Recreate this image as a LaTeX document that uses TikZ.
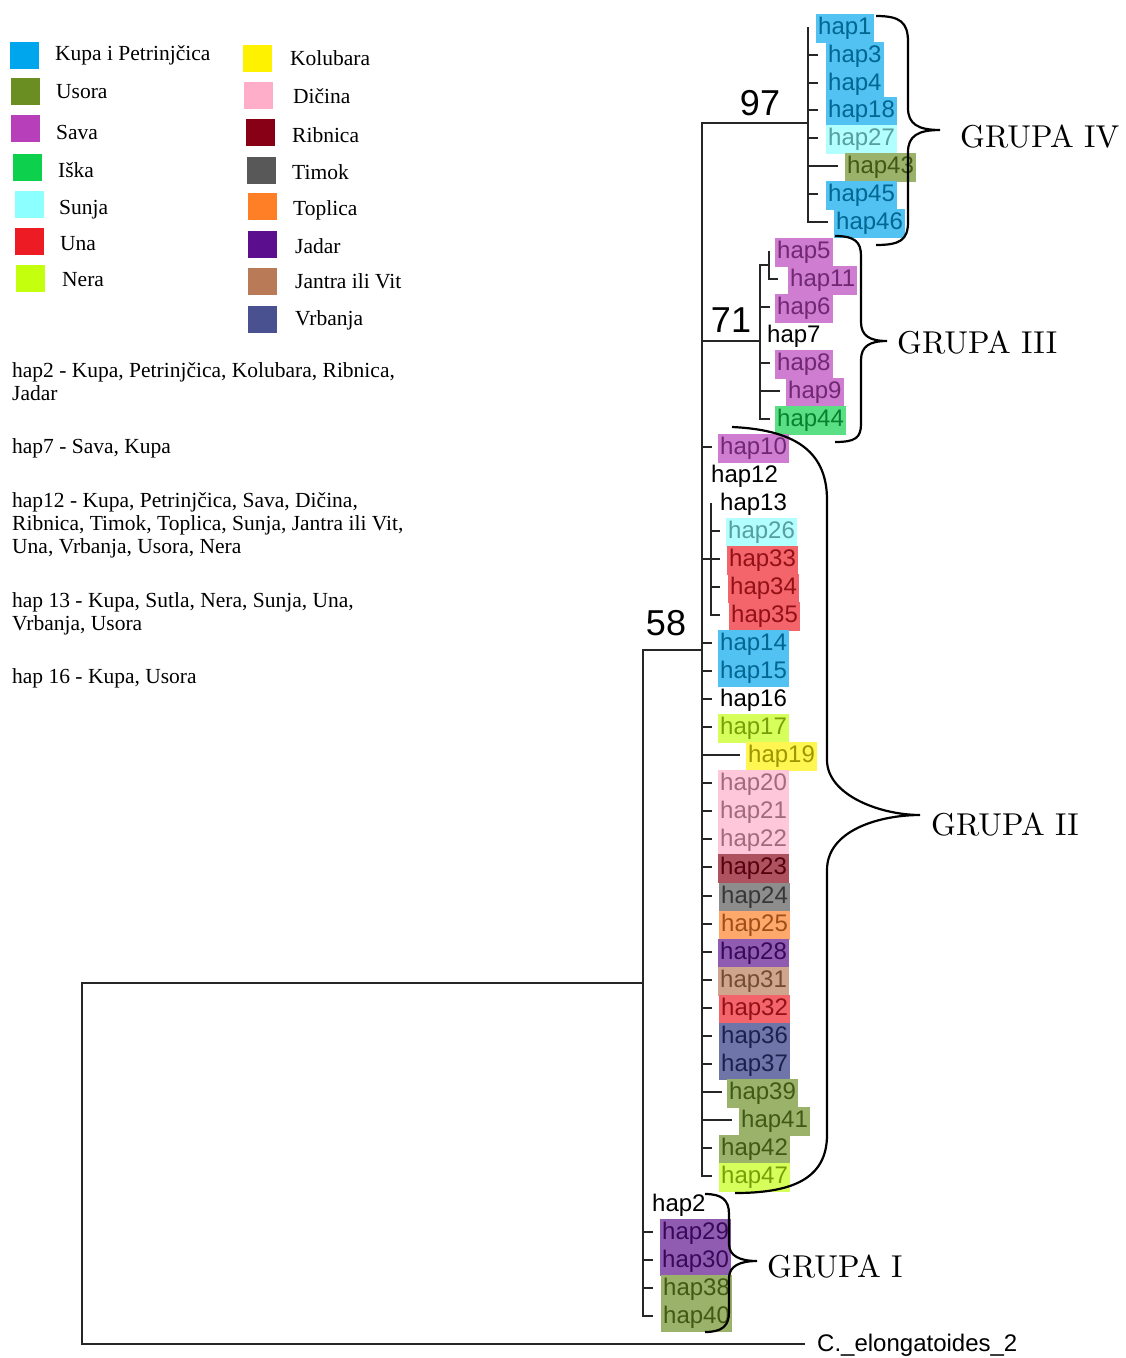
\documentclass[tikz,border=0pt]{standalone}
\usepackage{fontspec}
\newfontfamily\treefont{Liberation Sans}
\newfontfamily\notefont{Liberation Serif}
\newfontfamily\grupafont{lmroman10-regular}[Extension=.otf]

\definecolor{kupa}{RGB}{0,166,237}
\definecolor{usora}{RGB}{107,142,35}
\definecolor{sava}{RGB}{183,64,186}
\definecolor{iska}{RGB}{13,208,76}
\definecolor{sunja}{RGB}{140,255,255}
\definecolor{una}{RGB}{237,28,36}
\definecolor{nera}{RGB}{196,255,14}
\definecolor{kolubara}{RGB}{255,242,0}
\definecolor{dicina}{RGB}{255,174,201}
\definecolor{ribnica}{RGB}{136,0,21}
\definecolor{timok}{RGB}{88,88,88}
\definecolor{toplica}{RGB}{255,127,39}
\definecolor{jadar}{RGB}{91,15,142}
\definecolor{jantra}{RGB}{185,122,87}
\definecolor{vrbanja}{RGB}{74,81,144}
\definecolor{vrbanjatree}{RGB}{44,52,128}

\tikzset{
  branch/.style={line width=2.3pt, black!85},
  grbrace/.style={line width=2.2pt, black},
  leaf/.style={anchor=west, inner xsep=2pt, inner ysep=0pt, minimum height=29pt, yshift=-1.5pt,
    font=\treefont\fontsize{24}{28}\selectfont},
  hl/.style={leaf, fill=#1!68, text=#1!62!black},
  bs/.style={anchor=base, inner sep=0pt, font=\treefont\fontsize{36}{40}\selectfont},
  grupa/.style={anchor=base west, inner sep=0pt, font=\grupafont\fontsize{31.6}{38}\selectfont},
  legtext/.style={anchor=base west, inner sep=0pt, font=\notefont\fontsize{21.5}{23}\selectfont},
}

\begin{document}
\begin{tikzpicture}[x=1pt,y=-1pt]
  \useasboundingbox (0,0) rectangle (1125,1358);

  % legend
  \foreach \sx/\sy/\tx/\ty/\c/\t in {10/42/55/60/kupa/Kupa i Petrinjčica,
      11/78/56/98/usora/Usora, 11/115/56/139/sava/Sava, 13/154/58/177/iska/Iška,
      15/191/59/214/sunja/Sunja, 15/228/60/250/una/Una, 16/265/62/286/nera/Nera,
      243/45/290/65/kolubara/Kolubara, 244/82/293/103/dicina/Dičina,
      246/119/292/142/ribnica/Ribnica, 247/157/292/179/timok/Timok,
      248/193/293/215/toplica/Toplica, 248/231/295/253/jadar/Jadar,
      248/268/295/288/jantra/Jantra ili Vit, 248/306/295/325/vrbanja/Vrbanja}{
    \fill[\c] (\sx,\sy) rectangle ++(29,27);
    \node[legtext] (leg-\c) at (\tx,\ty) {\t};
  }

  % notes
  \node[legtext] (note2) at (12,377) {\begin{tabular}[t]{@{}l@{}}hap2 - Kupa, Petrinjčica, Kolubara, Ribnica,\\ Jadar\end{tabular}};
  \node[legtext] (note7) at (12,453) {hap7 - Sava, Kupa};
  \node[legtext] (note12) at (12,507) {\begin{tabular}[t]{@{}l@{}}hap12 - Kupa, Petrinjčica, Sava, Dičina,\\ Ribnica, Timok, Toplica, Sunja, Jantra ili Vit,\\ Una, Vrbanja, Usora, Nera\end{tabular}};
  \node[legtext] (note13) at (12,607) {\begin{tabular}[t]{@{}l@{}}hap 13 - Kupa, Sutla, Nera, Sunja, Una,\\ Vrbanja, Usora\end{tabular}};
  \node[legtext] (note16) at (12,683) {hap 16 - Kupa, Usora};

  % haplotypes with colour
  \foreach \n/\bx/\y/\px/\tx/\c in {hap1/816/27/808/808/kupa, hap3/826/55/808/818/kupa,
      hap4/826/83/808/818/kupa, hap18/826/110/808/818/kupa, hap27/826/138/808/818/sunja,
      hap43/845/166/808/838/usora, hap45/826/194/808/818/kupa, hap46/834/222/808/828/kupa,
      hap5/775/251/769/769/sava, hap11/788/279/769/778/sava, hap6/775/307/760/770/sava,
      hap8/775/363/760/770/sava, hap9/786/391/760/780/sava, hap44/775/419/760/770/iska,
      hap10/718/447/702/712/sava, hap26/726/531/711/720/sunja, hap33/727/559/711/720/una,
      hap34/728/587/711/720/una, hap35/729/615/711/720/una, hap14/718/643/702/712/kupa,
      hap15/718/671/702/712/kupa, hap17/718/727/702/712/nera, hap19/746/755/702/740/kolubara,
      hap20/718/783/702/712/dicina, hap21/718/811/702/712/dicina, hap22/718/839/702/712/dicina,
      hap23/718/867/702/712/ribnica, hap24/719/896/702/712/timok, hap25/719/924/702/712/toplica,
      hap28/718/952/702/712/jadar, hap31/718/980/702/712/jantra, hap32/719/1008/702/712/una,
      hap36/719/1036/702/712/vrbanjatree, hap37/719/1064/702/712/vrbanjatree,
      hap39/727/1092/702/722/usora, hap41/739/1120/702/732/usora, hap42/719/1148/702/712/usora,
      hap47/719/1176/702/712/nera, hap29/660/1232/643/653/jadar, hap30/660/1260/643/653/jadar,
      hap38/661/1288/643/653/usora, hap40/661/1316/643/653/usora}{
    \node[hl=\c] (\n) at (\bx,\y) {\n};
    \coordinate (\n-tip) at (\tx,\y);
    \draw[branch] (\px,\y) -- (\n-tip);
  }
  % shared haplotypes
  \foreach \n/\bx/\y/\px/\tx in {hap7/765/335/760/760, hap12/709/475/702/702,
      hap13/718/503/711/711, hap16/718/699/702/712, hap2/650/1204/643/643}{
    \node[leaf] (\n) at (\bx,\y) {\n};
    \coordinate (\n-tip) at (\tx,\y);
    \draw[branch] (\px,\y) -- (\n-tip);
  }
  \node[leaf] (outgroup) at (815,1344) {C.\_elongatoides\_2};

  % clades
  \coordinate (c97) at (808,123);
  \coordinate (c71) at (760,341);
  \coordinate (c511) at (769,265);
  \coordinate (c13) at (711,559);
  \coordinate (c58) at (702,650);
  \coordinate (cI) at (643,983);
  \coordinate (root) at (82,983);
  \coordinate (outtip) at (805,1344);
  \draw[branch] (hap1-tip) |- (hap46-tip);
  \draw[branch] (hap5-tip) |- (hap11-tip);
  \draw[branch] (c511) -- (c71 |- c511) |- (hap44-tip);
  \draw[branch] (hap13-tip) |- (hap35-tip);
  \draw[branch] (c58 |- c13) -- (c13);
  \draw[branch] (c97) -- (c58 |- c97) |- (hap47-tip);
  \draw[branch] (c58 |- c71) -- (c71);
  \draw[branch] (c58) -- (cI |- c58) |- (hap40-tip);
  \draw[branch] (cI) -- (root) |- (outtip);

  \node[bs] (bs97) at (760,115) {97};
  \node[bs] (bs71) at (731,332) {71};
  \node[bs] (bs58) at (666,635) {58};

  % groups
  \draw[grbrace] (876,16) .. controls (900,16) and (908,22) .. (908,42) -- (908,108)
    .. controls (908,124) and (918,130) .. (940,130) .. controls (918,130) and (908,136) .. (908,152)
    -- (908,222) .. controls (908,240) and (900,245) .. (876,245);
  \draw[grbrace] (835,236) .. controls (855,236) and (861,242) .. (861,256) -- (861,322)
    .. controls (861,336) and (870,341) .. (887,341) .. controls (870,341) and (861,346) .. (861,360)
    -- (861,424) .. controls (861,438) and (855,442) .. (835,442);
  \draw[grbrace] (732,427) .. controls (800,430) and (827,455) .. (827,500) -- (827,760)
    .. controls (827,795) and (880,815) .. (920,815) .. controls (880,815) and (827,830) .. (827,870)
    -- (827,1135) .. controls (827,1180) and (790,1193) .. (735,1193);
  \draw[grbrace] (705,1194) .. controls (722,1194) and (729,1200) .. (729,1214) -- (729,1244)
    .. controls (729,1256) and (740,1261) .. (757,1261) .. controls (740,1261) and (729,1266) .. (729,1278)
    -- (729,1312) .. controls (729,1326) and (722,1332) .. (705,1332);
  \node[grupa] (g4) at (960,147) {GRUPA IV};
  \node[grupa] (g3) at (897,353) {GRUPA III};
  \node[grupa] (g2) at (931,835) {GRUPA II};
  \node[grupa] (g1) at (767,1277) {GRUPA I};
\end{tikzpicture}
\end{document}
